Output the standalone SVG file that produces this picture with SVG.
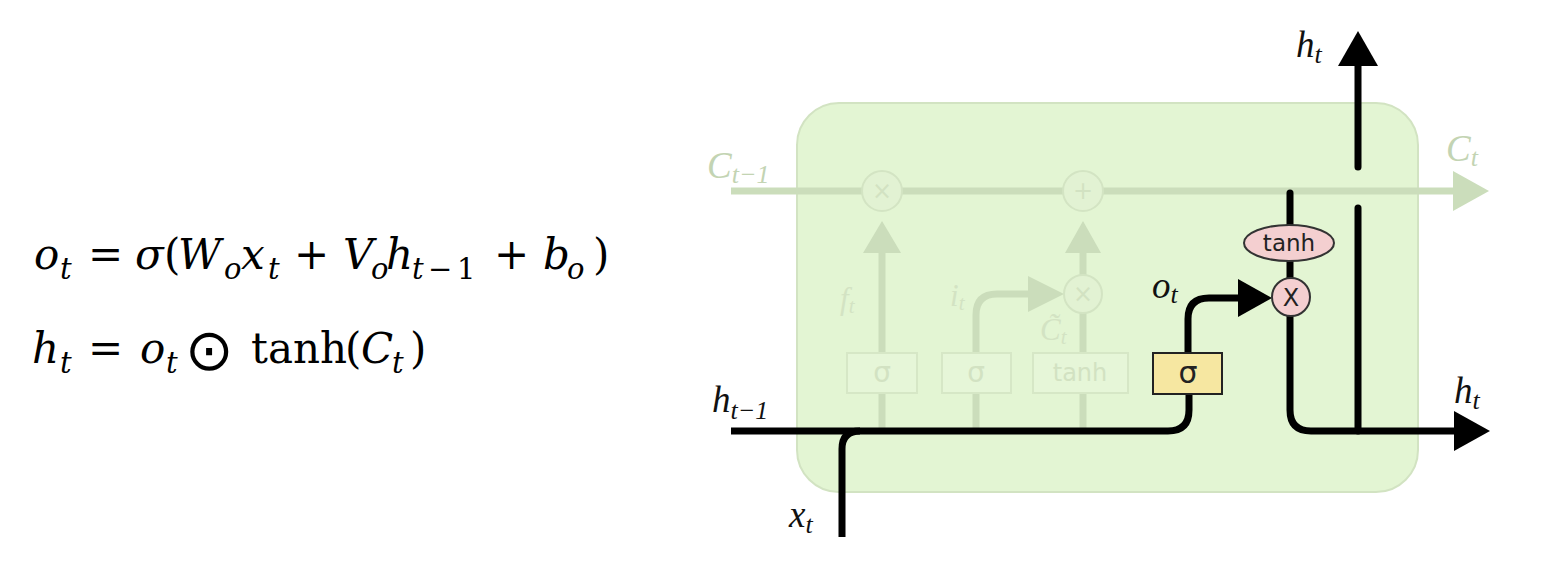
<svg xmlns="http://www.w3.org/2000/svg" width="1548" height="566" viewBox="0 0 1548 566">
<defs>
<style>
.eq{font-family:"DejaVu Serif","Liberation Serif",serif;font-size:42px;fill:#000}
.eq .i{font-style:italic}
.eq .s{font-size:29px;font-style:italic}
.eq .su{font-size:29px}
.lbl{font-family:"Liberation Serif","DejaVu Serif",serif;font-style:italic;font-size:37px;fill:#111}
.lbl .s{font-size:26px}
.fl{fill:#c3d4b3}
.fl2{fill:#d3e3c3}
.blk{fill:none;stroke:#000;stroke-width:7}
.fade{fill:none;stroke:#cbddbb;stroke-width:7}
.fbox{fill:#e6f6d8;stroke:#d6e7c6;stroke-width:2}
.ftxt{font-family:"DejaVu Sans","Liberation Sans",sans-serif;font-size:24px;fill:#d2e2c2;text-anchor:middle}
.fcirc{fill:#e2f2d3;stroke:#d3e4c3;stroke-width:2}
.sans{font-family:"DejaVu Sans","Liberation Sans",sans-serif;text-anchor:middle;fill:#222}
</style>
</defs>

<g id="equations" class="eq">
<text><tspan x="34" y="269" class="i">o</tspan><tspan x="60" y="279" class="s">t</tspan><tspan x="88" y="269">=</tspan><tspan x="135" y="269" class="i">σ</tspan><tspan x="164" y="269">(</tspan><tspan x="178" y="269" class="i">W</tspan><tspan x="224" y="279" class="s">o</tspan><tspan x="241" y="269" class="i">x</tspan><tspan x="268" y="279" class="s">t</tspan><tspan x="294" y="269">+</tspan><tspan x="343" y="269" class="i">V</tspan><tspan x="371" y="279" class="s">o</tspan><tspan x="386" y="269" class="i">h</tspan><tspan x="412" y="279" class="s">t</tspan><tspan x="428" y="279" class="su">−</tspan><tspan x="457" y="279" class="su">1</tspan><tspan x="494" y="269">+</tspan><tspan x="543" y="269" class="i">b</tspan><tspan x="567" y="279" class="s">o</tspan><tspan x="593" y="269">)</tspan></text>
<text><tspan x="32" y="363" class="i">h</tspan><tspan x="60" y="373" class="s">t</tspan><tspan x="88" y="363">=</tspan><tspan x="140" y="363" class="i">o</tspan><tspan x="166" y="373" class="s">t</tspan><tspan x="185" y="370" style="font-family:'DejaVu Sans',sans-serif;font-size:58px">⊙</tspan><tspan x="251" y="363">tanh</tspan><tspan x="345" y="363">(</tspan><tspan x="361" y="363" class="i">C</tspan><tspan x="392" y="373" class="s">t</tspan><tspan x="410" y="363">)</tspan></text>
</g>

<g id="cell">
<rect x="797" y="103" width="621" height="389" rx="42" ry="42" fill="#e3f5d3" stroke="#d2e3c2" stroke-width="2"/>
</g>

<g id="connectors">
<path class="fade" d="M731 191 H1456"/>
<polygon points="1453,171 1489,191 1453,211" fill="#cbddbb"/>
<path class="fade" d="M882 431 V393 M882 353 V250"/>
<polygon points="863,253 882,221 901,253" fill="#cbddbb"/>
<path class="fade" d="M976 431 V393 M976 353 V315 Q976 294 997 294 H1032"/>
<polygon points="1028,276 1064,294 1028,312" fill="#cbddbb"/>
<path class="fade" d="M1083 431 V393 M1083 353 V313 M1083 275 V250"/>
<polygon points="1065,253 1083,221 1101,253" fill="#cbddbb"/>
<path class="blk" d="M731 431 H1168 Q1189 431 1189 410 V393"/>
<path class="blk" d="M842 537 V449 Q842 431 860 431"/>
<path class="blk" d="M1188 353 V319 Q1188 298 1209 298 H1242"/>
<polygon points="1238,279 1272,298 1238,317"/>
<path class="blk" d="M1290 193 V297" stroke-linecap="round"/>
<path class="blk" d="M1290 316 V410 Q1290 431 1311 431 H1458"/>
<polygon points="1454,411 1490,431 1454,451"/>
<path class="blk" d="M1358 208 V431" stroke-linecap="round"/>
<path class="blk" d="M1358 167 V62" stroke-linecap="round"/>
<polygon points="1338,66 1358,31 1378,66"/>
</g>

<g id="forget-mult"><circle class="fcirc" cx="882" cy="191" r="20"/><text class="ftxt" x="882" y="199">×</text></g>
<g id="add"><circle class="fcirc" cx="1083" cy="191" r="20"/><text class="ftxt" x="1083" y="199">+</text></g>
<g id="input-mult"><circle class="fcirc" cx="1083" cy="294" r="19"/><text class="ftxt" x="1083" y="302">×</text></g>

<g id="forget-gate"><rect class="fbox" x="847" y="353" width="70" height="40"/><text class="ftxt" x="882" y="382" style="font-size:28px">σ</text></g>
<g id="input-gate"><rect class="fbox" x="942" y="353" width="69" height="40"/><text class="ftxt" x="976" y="382" style="font-size:28px">σ</text></g>
<g id="candidate"><rect class="fbox" x="1033" y="353" width="95" height="40"/><text class="ftxt" x="1080" y="381">tanh</text></g>

<g id="output-gate"><rect x="1153" y="353" width="69" height="41" fill="#f6e7a1" stroke="#222" stroke-width="2"/><text class="sans" x="1188" y="383" font-size="30">σ</text></g>
<g id="tanh-op"><ellipse cx="1289" cy="243" rx="45" ry="18" fill="#f4cfd0" stroke="#333" stroke-width="2"/><text class="sans" x="1289" y="251" font-size="23">tanh</text></g>
<g id="out-mult"><circle cx="1291" cy="297" r="19" fill="#f4cfd0" stroke="#333" stroke-width="2"/><text class="sans" x="1291" y="306" font-size="24">X</text></g>

<g id="labels" class="lbl">
<text class="fl" x="707" y="178">C<tspan class="s" dy="5">t−1</tspan></text>
<text class="fl" x="1446" y="161">C<tspan class="s" dy="5">t</tspan></text>
<text class="fl2" x="840" y="309" style="font-size:31px">f<tspan class="s" dy="4" style="font-size:21px">t</tspan></text>
<text class="fl2" x="950" y="306" style="font-size:31px">i<tspan class="s" dy="4" style="font-size:21px">t</tspan></text>
<text class="fl2" x="1040" y="340" style="font-size:31px">C̃<tspan class="s" dy="4" style="font-size:21px">t</tspan></text>
<text x="712" y="412">h<tspan class="s" dy="7">t−1</tspan></text>
<text x="789" y="527">x<tspan class="s" dy="6">t</tspan></text>
<text x="1152" y="298">o<tspan class="s" dy="5">t</tspan></text>
<text x="1296" y="57">h<tspan class="s" dy="6">t</tspan></text>
<text x="1454" y="403">h<tspan class="s" dy="6">t</tspan></text>
</g>
</svg>
